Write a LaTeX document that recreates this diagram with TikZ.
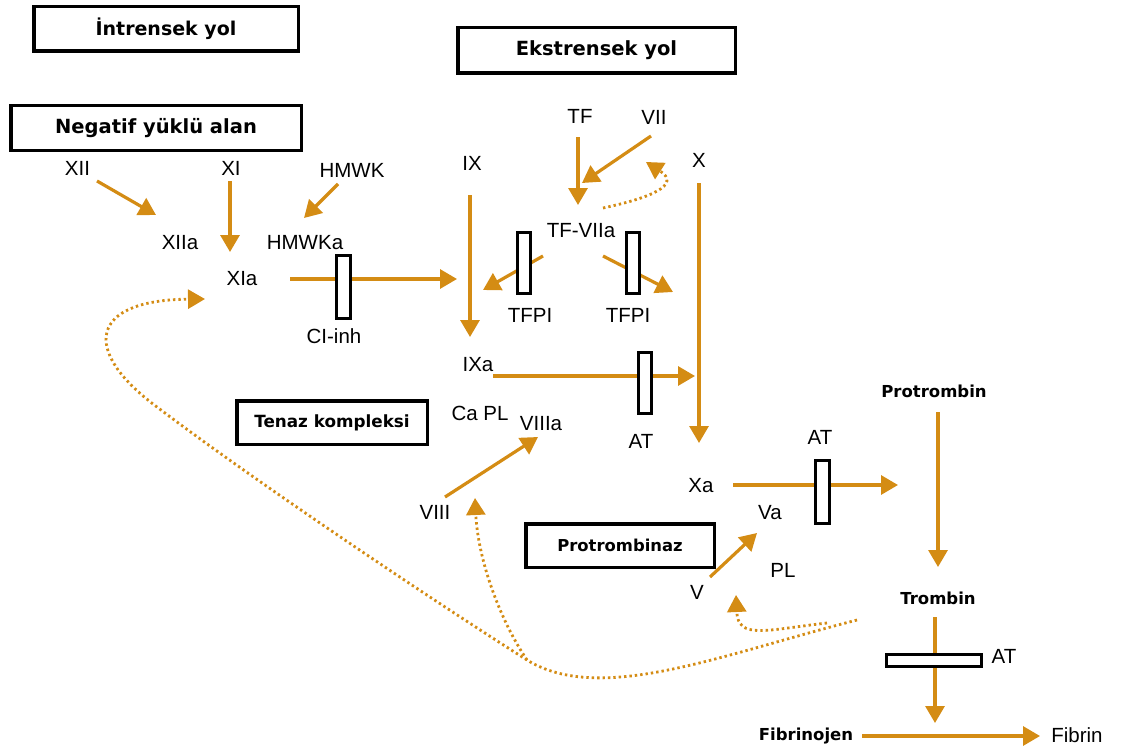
\documentclass[tikz,border=0pt]{standalone}
\usepackage{fontspec}
\setmainfont{Liberation Sans}
\newfontfamily\hdrfont{DejaVu Sans}
\usetikzlibrary{arrows.meta}
\definecolor{flow}{RGB}{212,140,20}
\begin{document}
\begin{tikzpicture}[x=1pt,y=-1pt,
  lbl/.style={font=\fontsize{20.5}{23}\selectfont, inner sep=0pt, text height=14.7pt, text depth=0pt},
  hdr/.style={font=\hdrfont\bfseries\fontsize{16.5}{20}\selectfont, inner sep=0pt, text height=12pt, text depth=0pt},
  titlebox/.style={draw=black, line width=3.5pt, inner sep=0pt, fill=white},
  inhib/.style={draw=black, fill=white, line width=3pt, inner sep=0pt},
  arr/.style={draw=flow, line width=3.2pt, -{Triangle[length=17pt,width=19pt]}},
  dotarr/.style={draw=flow, line width=2.8pt, dash pattern=on 2.4pt off 3pt, -{Triangle[length=17pt,width=19pt]}}
]
\useasboundingbox (0,0) rectangle (1123,749);

% title boxes
\node[titlebox, minimum width=264.5pt, minimum height=44.5pt, font=\hdrfont\bfseries\fontsize{19}{22}\selectfont] (intr) at (166,29) {İntrensek yol};
\node[titlebox, minimum width=277.5pt, minimum height=45.5pt, font=\hdrfont\bfseries\fontsize{19.5}{22}\selectfont] (ekst) at (596.5,50.5) {Ekstrensek yol};
\node[titlebox, minimum width=290.5pt, minimum height=44.5pt, font=\hdrfont\bfseries\fontsize{19.5}{22}\selectfont] (neg) at (156,128) {Negatif yüklü alan};
\node[titlebox, minimum width=190.5pt, minimum height=43.5pt, font=\hdrfont\bfseries\fontsize{16.8}{20}\selectfont] (tenaz) at (332,422.5) {Tenaz kompleksi};
\node[titlebox, minimum width=188.5pt, minimum height=43.5pt, font=\hdrfont\bfseries\fontsize{16.4}{20}\selectfont] (protnz) at (620,545.5) {Protrombinaz};

% labels
\node[lbl] (xii) at (77.5,168) {XII};
\node[lbl] (xi) at (231,168) {XI};
\node[lbl] (hmwk) at (352,170) {HMWK};
\node[lbl] (xiia) at (180,242) {XIIa};
\node[lbl] (hmwka) at (305,242) {HMWKa};
\node[lbl] (xia) at (242,278) {XIa};
\node[lbl] (ciinh) at (334,336) {CI-inh};
\node[lbl] (ix) at (472,163) {IX};
\node[lbl] (tf) at (580,116) {TF};
\node[lbl] (vii) at (654,117) {VII};
\node[lbl] (x) at (699,160) {X};
\node[lbl] (tfviia) at (581,230) {TF-VIIa};
\node[lbl] (tfpiA) at (530,315) {TFPI};
\node[lbl] (tfpiB) at (628,315) {TFPI};
\node[lbl] (ixa) at (478,364) {IXa};
\node[lbl] (capl) at (480,413) {Ca PL};
\node[lbl] (viiia) at (541,423) {VIIIa};
\node[lbl] (atM) at (641,441) {AT};
\node[lbl] (xa) at (701,485) {Xa};
\node[lbl] (viii) at (435,512) {VIII};
\node[lbl] (va) at (770,512) {Va};
\node[lbl] (pl) at (783,570) {PL};
\node[lbl] (v) at (697,592) {V};
\node[lbl] (atR) at (820,437) {AT};
\node[lbl] (atB) at (1004,656) {AT};
\node[lbl] (fibrin) at (1077,735) {Fibrin};
\node[hdr] (protr) at (934,391) {Protrombin};
\node[hdr] (tromb) at (938,598) {Trombin};
\node[hdr] (fibnj) at (806,734) {Fibrinojen};

% connector end points
\coordinate (c1s) at (97,181);   \coordinate (c1e) at (156,215);
\coordinate (c2s) at (230,181);  \coordinate (c2e) at (230,252);
\coordinate (c3s) at (338,184);  \coordinate (c3e) at (304,218);
\coordinate (c4s) at (290,279);  \coordinate (c4e) at (457,279);
\coordinate (c5s) at (470,195);  \coordinate (c5e) at (470,337);
\coordinate (c6s) at (578,137);  \coordinate (c6e) at (578,205);
\coordinate (c7s) at (651,136);  \coordinate (c7e) at (582,183);
\coordinate (c8s) at (603,208);  \coordinate (c8e) at (646,162);
\coordinate (c9s) at (543,256);  \coordinate (c9e) at (483,290);
\coordinate (c10s) at (603,256); \coordinate (c10e) at (673,292);
\coordinate (c11s) at (699,183); \coordinate (c11e) at (699,443);
\coordinate (c12s) at (493,376); \coordinate (c12e) at (695,376);
\coordinate (c13s) at (445,497); \coordinate (c13e) at (538,437);
\coordinate (c14s) at (733,485); \coordinate (c14e) at (898,485);
\coordinate (c15s) at (710,577); \coordinate (c15e) at (757,533);
\coordinate (c16s) at (938,412); \coordinate (c16e) at (938,567);
\coordinate (c17s) at (935,617); \coordinate (c17e) at (935,723);
\coordinate (c18s) at (862,736); \coordinate (c18e) at (1040,736);
\coordinate (fbV) at (827,623);  \coordinate (fbVe) at (736,595);
\coordinate (fbT) at (857,620);
\coordinate (junc) at (527,660); \coordinate (bend) at (157,407);
\coordinate (xiaT) at (205,299); \coordinate (viiiT) at (475,498);

% solid arrows
\draw[arr] (c1s) -- (c1e);
\draw[arr] (c2s) -- (c2e);
\draw[arr] (c3s) -- (c3e);
\draw[arr] (c4s) -- (c4e);
\draw[arr] (c5s) -- (c5e);
\draw[arr] (c6s) -- (c6e);
\draw[arr] (c7s) -- (c7e);
\draw[arr] (c9s) -- (c9e);
\draw[arr] (c10s) -- (c10e);
\draw[arr] (c11s) -- (c11e);
\draw[arr] (c12s) -- (c12e);
\draw[arr] (c13s) -- (c13e);
\draw[arr] (c14s) -- (c14e);
\draw[arr] (c15s) -- (c15e);
\draw[arr] (c16s) -- (c16e);
\draw[arr] (c17s) -- (c17e);
\draw[arr] (c18s) -- (c18e);

% dotted feedback arrows
\draw[dotarr] (c8s) .. controls (650,198) and (682,185) .. (c8e);
\draw[dotarr] (fbV) .. controls (765,630) and (738,640) .. (fbVe);
\draw[dotarr] (fbT) .. controls (720,655) and (600,705) .. (junc)
   .. controls (440,605) and (260,485) .. (bend)
   .. controls (80,350) and (90,300) .. (xiaT);
\draw[dotarr] (junc) .. controls (500,620) and (478,560) .. (viiiT);

% inhibitor bars
\node[inhib, minimum width=14pt, minimum height=63pt] (ciR) at (343.5,287) {};
\node[inhib, minimum width=13pt, minimum height=61pt] (tfpiRA) at (524,263) {};
\node[inhib, minimum width=13pt, minimum height=61pt] (tfpiRB) at (633,263) {};
\node[inhib, minimum width=13pt, minimum height=61pt] (atRM) at (645,383) {};
\node[inhib, minimum width=14pt, minimum height=63pt] (atRR) at (822.5,492) {};
\node[inhib, minimum width=95pt, minimum height=12pt] (atRB) at (934,660.5) {};
\end{tikzpicture}
\end{document}
